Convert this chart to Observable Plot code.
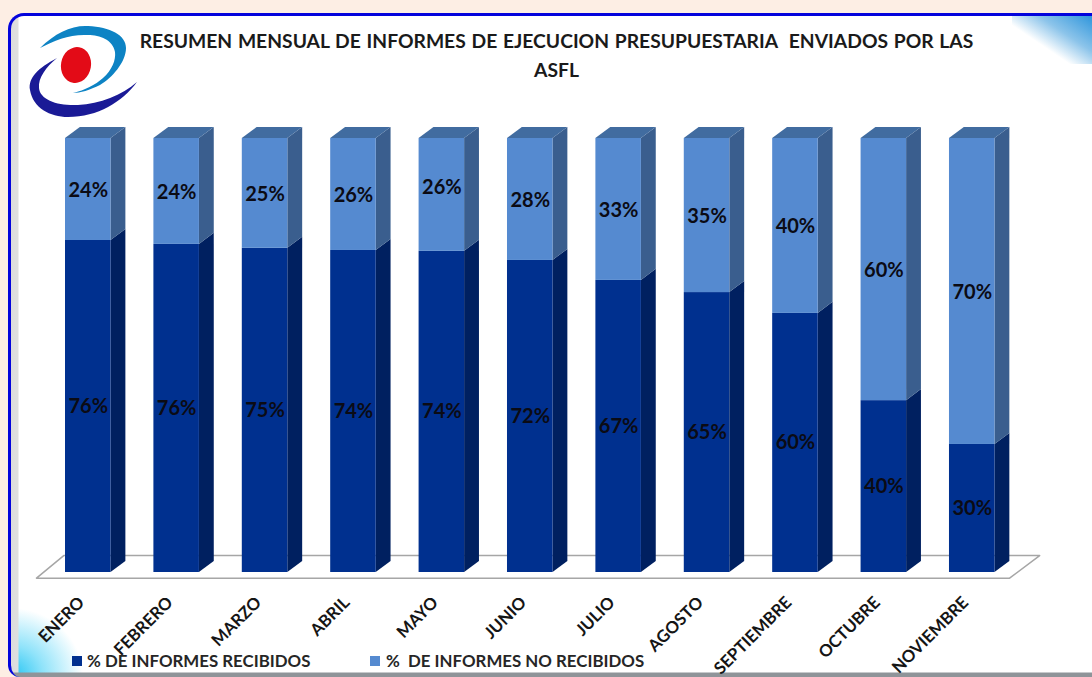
<!DOCTYPE html>
<html lang="es">
<head>
<meta charset="utf-8">
<script src="https://cdn.jsdelivr.net/npm/d3@7"></script>
<script src="https://cdn.jsdelivr.net/npm/@observablehq/plot@0.6"></script>
<style>
html,body{margin:0;padding:0;background:#fdeee4;width:1092px;height:677px;overflow:hidden;font-family:Lato,"Open Sans",sans-serif}
#frame{position:absolute;left:8px;top:13px;width:1100px;height:664px;box-sizing:border-box;border:3.5px solid #0303dc;border-right:none;border-bottom:none;border-radius:16px 0 0 12px;overflow:hidden;
background:
 linear-gradient(to bottom,rgba(0,0,0,0) 656px,#8f9499 657px,#8f9499 664px),
 linear-gradient(to right,#dcdcdc 0,#dfdfdf 7px,rgba(255,255,255,0) 8px),
 radial-gradient(ellipse 72px 68px at 0px 660px,#22c4f2 0,#8fe3fa 45%,#ffffff 100%),
 #fff}
#corner{position:absolute;left:1012px;top:16px;width:80px;height:48px;background:linear-gradient(214deg,#2f96dc 0,#8cc4ea 35%,#ffffff 62%)}
#plot{position:absolute;left:0;top:0}
#title{position:absolute;left:100px;top:26px;width:913px;text-align:center;font-size:19.3px;line-height:29px;font-weight:700;color:#1a1a1a;word-spacing:1px}
#legend{position:absolute;top:650px;left:0;font-size:16.85px;font-weight:700;color:#262626;height:22px;line-height:22px;white-space:pre}
#legend span{position:absolute;top:0}
#legend i{position:absolute;top:6px;width:10px;height:10px}
#logo{position:absolute;left:26px;top:22px}
</style>
</head>
<body>
<div id="frame"></div>
<div id="corner"></div>
<div id="plot"></div>
<svg id="logo" width="115" height="100" viewBox="26 22 115 100">
  <path d="M40 48 C55 33 72 25 88 26 C110 27 126 35 126 48 C126 62 112 78 100 85 C90 90 80 93 73 93 C85 90 95 85 103 78 C112 70 116 60 115 52 C113 40 100 35 88 35 C70 34 55 40 40 48Z" fill="#0d83c4"/>
  <ellipse cx="76" cy="65" rx="15" ry="18" transform="rotate(10 76 65)" fill="#e30b17"/>
  <path d="M57 58 C38 68 28 78 30 90 C33 108 50 117 68 117 C98 117 122 102 137 82 C122 95 100 104 78 105 C58 106 40 100 39 88 C38 78 46 67 57 58Z" fill="#1a1a96"/>
</svg>
<div id="title">RESUMEN MENSUAL DE INFORMES DE EJECUCION PRESUPUESTARIA&nbsp; ENVIADOS POR LAS<br>ASFL</div>
<div id="legend">
  <i style="left:72px;background:#00308f"></i><span style="left:87px">% DE INFORMES RECIBIDOS</span>
  <i style="left:370px;background:#558ad0"></i><span style="left:386px">%&nbsp; DE INFORMES NO RECIBIDOS</span>
</div>
<script>
const months = ["ENERO","FEBRERO","MARZO","ABRIL","MAYO","JUNIO","JULIO","AGOSTO","SEPTIEMBRE","OCTUBRE","NOVIEMBRE"];
const received = [76.5,75.6,74.7,74.2,74.0,71.9,67.3,64.5,59.7,39.6,29.5];
const notReceived = [23.5,24.4,25.3,25.8,26.0,28.1,32.7,35.5,40.3,60.4,70.5];
const receivedLabels = ["76%","76%","75%","74%","74%","72%","67%","65%","60%","40%","30%"];
const notReceivedLabels = ["24%","24%","25%","26%","26%","28%","33%","35%","40%","60%","70%"];

const barW = 0.515, depthX = 0.168, depthY = 2.55;
const faceNames = ["frontDark","frontLight","sideDark","sideLight","topLight"];
const faceColors = ["#00308f","#558ad0","#002060","#3a5e8e","#416ca0"];
// the MAYO upper label sits higher in its segment than the others
const upperLabelLift = {MAYO: 1.9};

const rects = [], faces = [], valueLabels = [];
months.forEach((m,i)=>{
  const a = received[i], t = a + notReceived[i], x1 = i, x2 = i + barW;
  rects.push({x1,x2,y1:0,y2:a,face:"frontDark"},{x1,x2,y1:a,y2:t,face:"frontLight"});
  const side = (id,face,lo,hi)=>faces.push(
    {id,face,x:x2,y1:lo,y2:hi},
    {id,face,x:x2+depthX,y1:lo+depthY,y2:hi+depthY});
  side(m+"-sd","sideDark",0,a);
  side(m+"-sl","sideLight",a,t);
  const tid = m+"-top";
  faces.push(
    {id:tid,face:"topLight",x:x1,y1:t,y2:t},
    {id:tid,face:"topLight",x:x1+depthX,y1:t,y2:t+depthY},
    {id:tid,face:"topLight",x:x2,y1:t,y2:t+depthY},
    {id:tid,face:"topLight",x:x2+depthX,y1:t+depthY,y2:t+depthY});
  valueLabels.push({x:x1+barW/2,y:a/2,t:receivedLabels[i]},
    {x:x1+barW/2,y:a+notReceived[i]/2+(upperLabelLift[m]||0)-0.2,t:notReceivedLabels[i]});
});

const floorX = [-0.328,10.68,11.02,-0.02,-0.328];
const floorY = [-1.3,-1.3,3.9,3.9,-1.3];
const floor = floorX.map((x,i)=>({x,y:floorY[i]}));
const monthLabels = months.map((m,i)=>({m,x:i+barW/2-0.075,y:-6.3}));

const chart = Plot.plot({
  width:1092,height:677,
  marginLeft:65,marginRight:97.5,marginTop:138,marginBottom:105,
  style:{background:"transparent",fontFamily:"Lato, 'Open Sans', sans-serif"},
  x:{domain:[0,10+barW],axis:null},
  y:{domain:[0,100],axis:null},
  color:{domain:faceNames,range:faceColors},
  marks:[
    Plot.line(floor,{x:"x",y:"y",stroke:"#a6a6a6",strokeWidth:1.5}),
    Plot.areaY(faces,{x:"x",y1:"y1",y2:"y2",z:"id",fill:"face"}),
    Plot.rect(rects,{x1:"x1",x2:"x2",y1:"y1",y2:"y2",fill:"face",inset:0}),
    Plot.text(valueLabels,{x:"x",y:"y",text:"t",fill:"#0b0b14",fontSize:20,fontWeight:700}),
    Plot.text(monthLabels,{x:"x",y:"y",text:"m",rotate:-45,textAnchor:"end",fill:"#151515",fontSize:16.8,fontWeight:700})
  ]
});
document.getElementById("plot").appendChild(chart);
</script>
</body>
</html>
